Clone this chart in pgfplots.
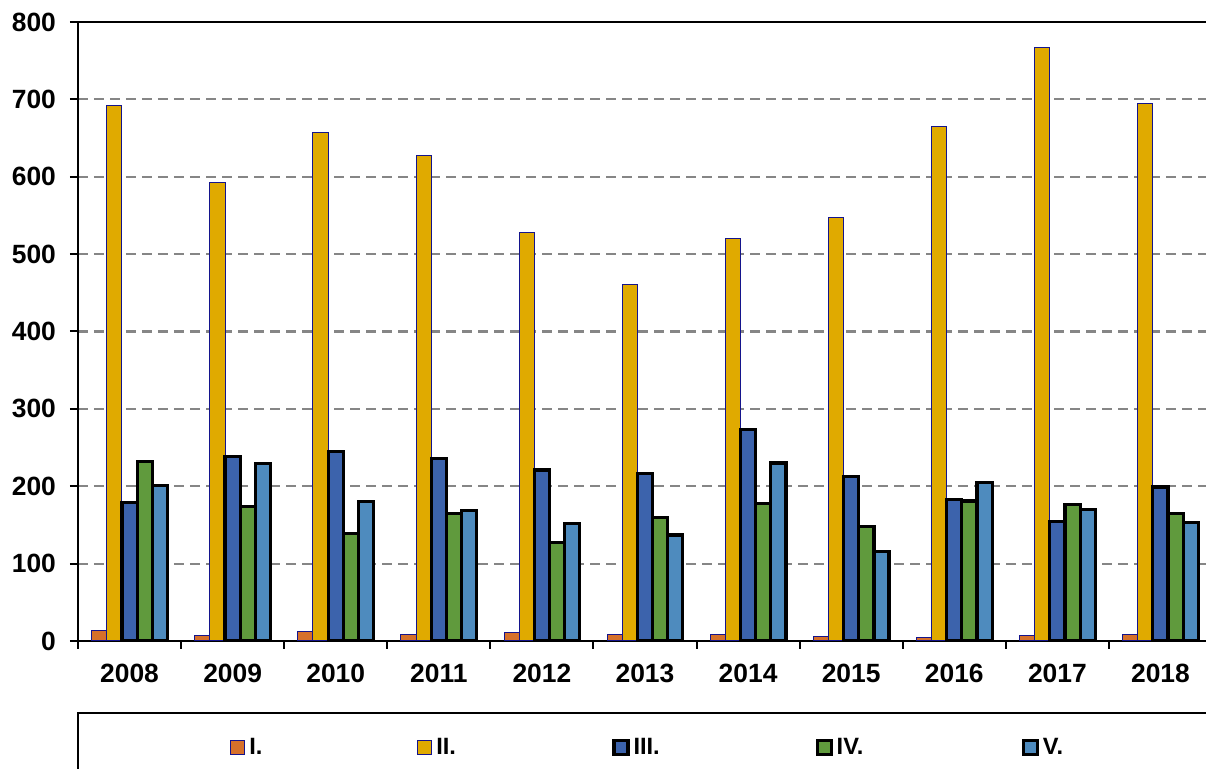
\documentclass[border=0pt]{standalone}
\usepackage{fontspec}
\setmainfont{Liberation Sans}
\usepackage{pgfplots}
\pgfplotsset{compat=1.18}
\definecolor{cI}{RGB}{214,112,42}
\definecolor{cII}{RGB}{224,170,0}
\definecolor{cIII}{RGB}{60,99,172}
\definecolor{cIV}{RGB}{96,154,61}
\definecolor{cV}{RGB}{78,139,190}
\definecolor{navyb}{RGB}{20,20,140}
\begin{document}
\begin{tikzpicture}
\begin{axis}[
  name=ax,
  scale only axis, width=567pt, height=309.5pt,
  at={(0,0)}, anchor=south west,
  xmin=-0.5, xmax=10.5, ymin=0, ymax=800,
  axis x line*=bottom, axis y line*=left,
  axis line style={line width=1pt, -},
  ybar=0pt, bar width=0.147,
  xtick={-0.5,0.5,...,10.5},
  x tick label as interval,
  xticklabels={2008,2009,2010,2011,2012,2013,2014,2015,2016,2017,2018},
  ytick={0,100,...,800},
  tick align=outside,
  major tick length=4pt,
  every tick/.append style={black, line width=1pt},
  ymajorgrids,
  grid style={gray!95, line width=1.1pt, dash pattern=on 5pt off 3pt},
  tick label style={font=\fontsize{13.2}{15}\selectfont\bfseries},
  yticklabel style={xshift=-3.5pt},
  xticklabel style={yshift=-4pt},
  /pgf/number format/assume math mode=true,
  legend image code/.code={\draw[#1] (0pt,-3.5pt) rectangle (7pt,3.5pt);},
  legend columns=5,
  legend style={at={(0.1287,-0.172)}, anchor=west, draw=none, fill=none,
    font=\fontsize{11.8}{13}\selectfont\bfseries,
    /tikz/every even column/.append style={column sep=0pt}},
]
\addplot[fill=cI, draw=navyb, line width=0.5pt] coordinates {(0,14) (1,7) (2,12.5) (3,9) (4,11.5) (5,8) (6,8) (7,5.5) (8,5) (9,6.5) (10,8)};
\addplot[fill=cII, draw=navyb, line width=0.5pt] coordinates {(0,692) (1,593) (2,657) (3,627) (4,528) (5,461) (6,520) (7,547) (8,665) (9,767) (10,695)};
\addplot[fill=cIII, draw=black, line width=1.6pt] coordinates {(0,179) (1,238) (2,245) (3,236) (4,221) (5,216) (6,273) (7,213) (8,183) (9,154) (10,199)};
\addplot[fill=cIV, draw=black, line width=1.6pt] coordinates {(0,232) (1,174) (2,139) (3,165) (4,127) (5,160) (6,178) (7,148) (8,181) (9,176) (10,165)};
\addplot[fill=cV, draw=black, line width=1.6pt] coordinates {(0,201) (1,229) (2,180) (3,169) (4,152) (5,137) (6,230) (7,116) (8,205) (9,170) (10,153)};
\legend{\makebox[82pt][l]{I.},\makebox[86pt][l]{II.},\makebox[89pt][l]{III.},\makebox[90.5pt][l]{IV.},\makebox[20pt][l]{V.}}
\end{axis}
\draw[line width=1pt] (ax.north west) -- (ax.north east);
\draw[line width=1pt] (0,-64pt) -- (0,-35.85pt) -- (567pt,-35.85pt);
\pgfresetboundingbox
\path[use as bounding box] (-39pt,-64pt) rectangle (564pt,320.5pt);
\end{tikzpicture}
\end{document}
